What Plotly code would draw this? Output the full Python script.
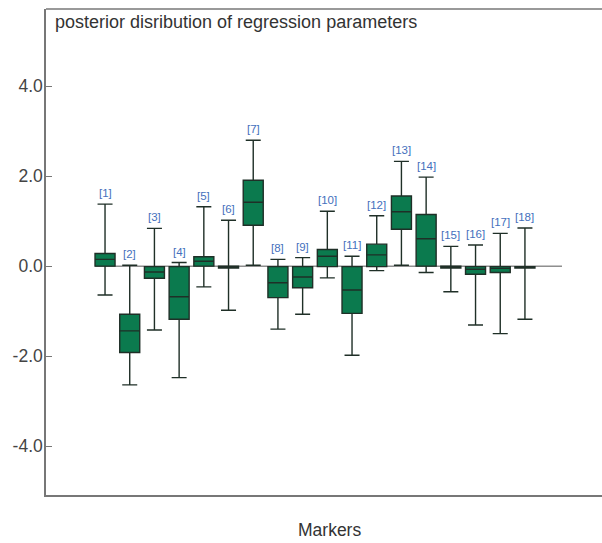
import plotly.graph_objects as go

markers = list(range(1, 19))
labels = [f"[{i}]" for i in markers]
upper = [1.38, 0.02, 0.84, 0.08, 1.32, 1.02, 2.80, 0.15, 0.19, 1.22, 0.22, 1.12, 2.33, 1.98, 0.44, 0.47, 0.73, 0.85]
q3 = [0.28, -1.07, -0.01, -0.01, 0.21, 0.00, 1.91, -0.01, -0.01, 0.37, -0.01, 0.49, 1.56, 1.15, 0.00, -0.01, -0.01, -0.01]
median = [0.15, -1.44, -0.13, -0.68, 0.11, -0.02, 1.42, -0.37, -0.24, 0.22, -0.53, 0.25, 1.21, 0.61, -0.02, -0.07, -0.05, -0.02]
q1 = [0.00, -1.92, -0.27, -1.18, 0.00, -0.04, 0.91, -0.70, -0.48, -0.01, -1.05, -0.01, 0.82, 0.00, -0.04, -0.18, -0.14, -0.04]
lower = [-0.64, -2.64, -1.42, -2.48, -0.46, -0.98, 0.02, -1.40, -1.07, -0.26, -1.98, -0.10, 0.02, -0.14, -0.57, -1.31, -1.50, -1.18]
ytick_vals = [-4, -2, 0, 2, 4]
ytick_text = ["-4.0", "-2.0", "0.0", "2.0", "4.0"]

fig = go.Figure()
fig.add_trace(go.Box(
    x=markers, q1=q1, median=median, q3=q3,
    lowerfence=lower, upperfence=upper,
    width=0.81, whiskerwidth=0.75,
    fillcolor="#0b7a4e",
    line=dict(color="#1f2f27", width=1.4),
    boxpoints=False, hoverinfo="skip", showlegend=False,
))

annotations = [
    dict(text=lab, x=xv, y=yv, xref="x", yref="y", xanchor="center", yanchor="bottom",
         yshift=3, showarrow=False,
         font=dict(family="Liberation Sans, Arial", size=11.5, color="#4470bd"))
    for lab, xv, yv in zip(labels, markers, upper)
]
annotations += [
    dict(text="posterior disribution of regression parameters", xref="paper", yref="paper",
         x=0.0, y=1, xanchor="left", yanchor="top", xshift=7, yshift=-1,
         showarrow=False, font=dict(size=18, color="#333333")),
    dict(text="Markers", xref="paper", yref="paper", x=(329 - 46) / 556, y=0,
         xanchor="center", yanchor="middle", yshift=-35,
         showarrow=False, font=dict(size=17.5, color="#333333")),
]

fig.update_layout(
    width=602, height=543,
    margin=dict(l=46, r=0, t=9, b=48),
    paper_bgcolor="white", plot_bgcolor="white",
    font=dict(family="Liberation Sans, Arial", color="#444444"),
    xaxis=dict(range=[-1.39, 21.12], showticklabels=False, ticks="",
               showgrid=False, zeroline=False, showline=True,
               linecolor="#777777", linewidth=1.5, mirror=False),
    yaxis=dict(range=[-5.09, 5.72], tickvals=ytick_vals, ticktext=ytick_text,
               ticks="inside", ticklen=6, tickcolor="#777777",
               tickfont=dict(size=17.5, color="#444444"),
               ticklabelstandoff=-2,
               showgrid=False, zeroline=False, showline=True,
               linecolor="#777777", linewidth=1.5),
    shapes=[dict(type="line", xref="paper", yref="paper", x0=0, x1=1, y0=1, y1=1,
                 line=dict(color="#777777", width=1.5)),
            dict(type="line", x0=0.6, x1=19.5, y0=0, y1=0,
                 line=dict(color="#555555", width=1), layer="below")],
    annotations=annotations,
)

fig.write_html("out.html")
